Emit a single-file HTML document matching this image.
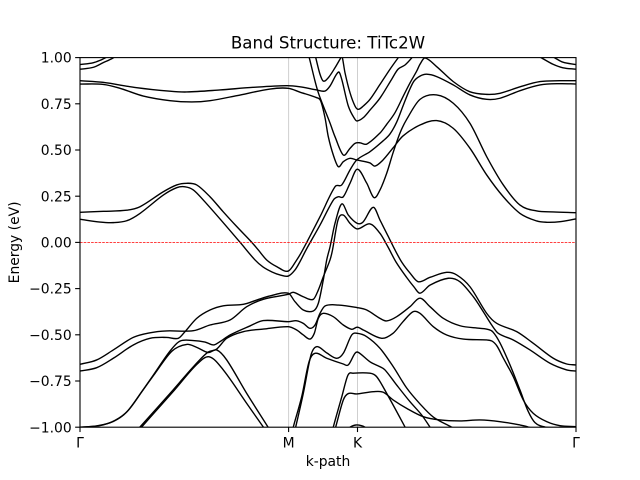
<!DOCTYPE html>
<html lang="en">
<head>
<meta charset="utf-8">
<title>Band Structure: TiTc2W</title>
<style>
html,body{margin:0;padding:0;background:#fff}
svg{display:block}
text{font-family:"DejaVu Sans","Liberation Sans",sans-serif;fill:#000}
</style>
</head>
<body>
<svg id="chart" xmlns="http://www.w3.org/2000/svg" width="640" height="480" viewBox="0 0 640 480">
  <defs><clipPath id="plot-clip"><rect x="80" y="57.6" width="496" height="369.6"></rect></clipPath></defs>
  <rect x="0" y="0" width="640" height="480" fill="#fff"></rect>
  <g id="guides" clip-path="url(#plot-clip)"></g>
  <g id="bands" clip-path="url(#plot-clip)" fill="none" stroke="#000" stroke-width="1.39"></g>
  <g id="axes"></g>
  <text x="328" y="48.5" font-size="16.67" text-anchor="middle">Band Structure: TiTc2W</text>
  <text x="328" y="466" font-size="13.89" text-anchor="middle">k-path</text>
  <text transform="translate(19 242.4) rotate(-90)" font-size="13.89" text-anchor="middle">Energy (eV)</text>
</svg>
<script>
const kMax = 496;
const energyMin = -1;
const energyMax = 1;
const fermiEnergy = 0;
const kTickValues = [0, 208.6, 277.5, 496];
const kTickLabels = ['Γ', 'M', 'K', 'Γ'];
const guideKValues = [208.6, 277.5];
const energyTicks = [-1, -0.75, -0.5, -0.25, 0, 0.25, 0.5, 0.75, 1];
const energyTickLabels = ['−1.00', '−0.75', '−0.50', '−0.25', '0.00', '0.25', '0.50', '0.75', '1.00'];

const band01K = [0, 13, 20, 25, 32];
const band01E = [0.962, 0.972, 0.985, 0.998, 1.019];
const band02K = [0, 13, 23, 33, 40];
const band02E = [0.937, 0.947, 0.972, 0.998, 1.025];
const band03K = [453, 461.7, 473, 483, 496];
const band03E = [1.025, 0.998, 0.964, 0.945, 0.937];
const band04K = [467, 475, 483, 496];
const band04E = [1.025, 0.998, 0.975, 0.962];
const band05K = [0, 23, 56.7, 90, 106.7, 140, 173, 206.7, 220, 236.7, 245, 250, 258.5, 261.7, 268.3, 275, 277.3, 283.3, 290, 300, 311.7, 318, 325, 331.7, 336];
const band05E = [0.875, 0.866, 0.837, 0.818, 0.814, 0.825, 0.839, 0.848, 0.842, 0.825, 0.819, 0.846, 0.922, 0.883, 0.738, 0.666, 0.657, 0.675, 0.716, 0.781, 0.883, 0.937, 0.960, 0.998, 1.030];
const band06K = [0, 23.3, 40, 63.3, 90, 111.7, 130, 156.7, 190, 208.3, 220, 236.7, 240.7, 245, 248.3, 253.3, 258.3, 263.3, 270, 276.7, 290, 295, 303, 313, 323, 340, 356.7, 373.3, 390, 406.7, 423.3, 440, 456.7, 466.7, 480, 496];
const band06E = [0.857, 0.855, 0.834, 0.792, 0.767, 0.760, 0.767, 0.794, 0.830, 0.834, 0.813, 0.783, 0.765, 0.675, 0.572, 0.473, 0.410, 0.437, 0.455, 0.446, 0.430, 0.413, 0.446, 0.511, 0.576, 0.635, 0.659, 0.617, 0.509, 0.365, 0.247, 0.157, 0.116, 0.109, 0.112, 0.127];
const band07K = [226, 229.3, 235, 238.3, 243.3, 250, 255, 263.3, 270, 275, 280, 286.7, 300, 306.7, 315, 323.3, 330, 336.7, 340, 345, 356.7, 373.3, 390, 406.7, 420, 440, 460, 480, 496];
const band07E = [1.057, 0.998, 0.873, 0.810, 0.738, 0.646, 0.572, 0.473, 0.509, 0.536, 0.539, 0.532, 0.592, 0.639, 0.702, 0.792, 0.863, 0.927, 0.964, 0.998, 0.951, 0.870, 0.815, 0.801, 0.807, 0.842, 0.870, 0.875, 0.875];
const band08K = [234, 236, 240, 243.3, 248.3, 255, 260.7, 262, 265, 270, 275, 278.3, 283.3, 290, 300, 310, 318, 323];
const band08E = [1.041, 0.994, 0.910, 0.873, 0.891, 0.945, 0.998, 1.009, 0.918, 0.810, 0.738, 0.720, 0.738, 0.774, 0.855, 0.937, 0.998, 1.036];
const band09K = [0, 23.3, 46.7, 60, 83.3, 96.7, 106.7, 116.7, 130, 143, 156.7, 171.7, 178.3, 186.7, 196.7, 208.3, 216.7, 222.7, 240, 255, 261.7, 270, 276.7, 290, 303, 310, 316.7, 323, 329, 334, 340, 346.7, 356.7, 373.3, 390, 406.7, 420, 440, 460, 480, 496];
const band09E = [0.163, 0.168, 0.174, 0.193, 0.274, 0.311, 0.320, 0.311, 0.247, 0.167, 0.086, 0.001, -0.041, -0.095, -0.131, -0.155, -0.095, -0.041, 0.139, 0.301, 0.311, 0.392, 0.446, 0.491, 0.549, 0.587, 0.651, 0.738, 0.819, 0.873, 0.900, 0.910, 0.897, 0.852, 0.798, 0.774, 0.780, 0.821, 0.852, 0.859, 0.857];
const band10K = [0, 20, 33.3, 46.7, 60, 83.3, 96.7, 105, 113.3, 123.3, 140, 160, 175, 183, 192, 200, 208.3, 215, 220, 226, 240, 253.3, 258.3, 263.3, 270, 277.3, 286.7, 294, 300, 306.7, 313, 320, 326.7, 340, 356.7, 373.3, 390, 406.7, 423.3, 440, 456.7, 473.3, 496];
const band10E = [0.125, 0.110, 0.107, 0.117, 0.157, 0.256, 0.296, 0.301, 0.284, 0.229, 0.127, 0.001, -0.095, -0.133, -0.160, -0.176, -0.182, -0.149, -0.104, -0.041, 0.094, 0.229, 0.247, 0.247, 0.320, 0.396, 0.321, 0.242, 0.284, 0.374, 0.484, 0.592, 0.666, 0.774, 0.798, 0.753, 0.644, 0.464, 0.311, 0.202, 0.170, 0.165, 0.161];
const band11K = [0, 16.7, 33.3, 46.7, 61.7, 73.3, 90, 100, 113.3, 125, 133.5, 140, 150, 170, 183.3, 208.3, 216.7, 223.3, 230, 235, 240, 245, 258.3, 277.3, 286.7, 300, 306.7, 316.7, 330, 340, 350, 363.3, 380, 400, 408, 413, 420, 430, 440, 448, 455, 465, 480, 496];
const band11E = [-1.000, -0.993, -0.969, -0.918, -0.808, -0.718, -0.588, -0.534, -0.531, -0.539, -0.555, -0.537, -0.501, -0.452, -0.423, -0.429, -0.424, -0.438, -0.465, -0.447, -0.384, -0.344, -0.339, -0.353, -0.366, -0.411, -0.425, -0.402, -0.348, -0.302, -0.348, -0.411, -0.451, -0.465, -0.471, -0.485, -0.544, -0.663, -0.799, -0.912, -0.975, -0.999, -1.002, -1.002];
const band12K = [0, 20, 35, 48, 63, 75, 92, 106.7, 116.7, 128.3, 136.7, 146.7, 166.7, 186.7, 191];
const band12E = [-1.000, -0.991, -0.963, -0.910, -0.799, -0.709, -0.588, -0.552, -0.568, -0.596, -0.582, -0.636, -0.817, -0.988, -1.026];
const band13K = [56, 60, 93, 110, 120, 128.3, 136.7, 146.7, 163.3, 183.3, 208.3, 216.7, 223.3, 230, 234.3, 238.3, 243.3, 253.3, 263.3, 271.7, 277.3, 283.3, 301.7, 313, 323, 333, 340, 353.3, 366.7, 383.3, 406.7, 412, 417, 423.3, 433.3, 443.3, 453.3, 466.7, 480, 496];
const band13E = [-1.026, -0.999, -0.799, -0.693, -0.634, -0.593, -0.577, -0.519, -0.483, -0.469, -0.456, -0.474, -0.501, -0.523, -0.492, -0.411, -0.384, -0.402, -0.447, -0.470, -0.459, -0.474, -0.519, -0.492, -0.429, -0.375, -0.384, -0.456, -0.501, -0.523, -0.528, -0.534, -0.561, -0.626, -0.727, -0.853, -0.925, -0.970, -0.992, -0.997];
const band14K = [58, 61.7, 94.5, 116.7, 129.3, 143.3, 166.7, 183.3, 187];
const band14E = [-1.026, -0.999, -0.799, -0.661, -0.619, -0.690, -0.871, -0.999, -1.026];
const band15K = [0, 16.7, 33.3, 53.3, 70, 86.7, 113.3, 130, 150, 166.7, 183.3, 208.3, 213.3, 223.3, 233.3, 238.3, 243.3, 250, 252.5, 258, 263.3, 270, 277.3, 290, 300, 308, 316, 326.7, 334, 340, 350, 368.3, 380, 393.3, 403.3, 411.7, 418.3, 433.3, 450, 470, 486.7, 496];
const band15E = [-0.660, -0.636, -0.582, -0.514, -0.489, -0.479, -0.478, -0.447, -0.420, -0.348, -0.308, -0.281, -0.270, -0.294, -0.308, -0.258, -0.186, -0.095, -0.041, 0.121, 0.148, 0.103, 0.073, 0.100, 0.049, -0.025, -0.106, -0.190, -0.241, -0.275, -0.231, -0.194, -0.213, -0.294, -0.375, -0.447, -0.492, -0.528, -0.582, -0.654, -0.690, -0.696];
const band16K = [0, 16.7, 33.3, 53.3, 70, 86.7, 98.3, 105, 116.7, 130, 143.3, 163.3, 176.7, 190, 208.3, 215, 223.3, 233.3, 238.3, 243.3, 246.7, 250, 255, 261.7, 268.3, 277.3, 283.3, 293.3, 300, 308, 315, 322, 330, 338.3, 350, 366.7, 376.7, 390, 406.7, 416.7, 436.7, 453.3, 473.3, 486.7, 496];
const band16E = [-0.696, -0.678, -0.627, -0.555, -0.519, -0.514, -0.519, -0.483, -0.411, -0.366, -0.343, -0.335, -0.312, -0.290, -0.275, -0.321, -0.366, -0.371, -0.330, -0.203, -0.095, -0.025, 0.103, 0.208, 0.148, 0.103, 0.112, 0.190, 0.121, 0.035, -0.041, -0.109, -0.166, -0.213, -0.189, -0.162, -0.176, -0.240, -0.384, -0.438, -0.483, -0.546, -0.627, -0.658, -0.663];
const band17K = [214.5, 215.7, 223.3, 231, 236.7, 246.7, 256.7, 263.3, 271.7, 277.3, 286.7, 300, 313.3, 326.7, 340, 353.3, 371.7, 376];
const band17E = [-1.026, -0.999, -0.817, -0.609, -0.564, -0.598, -0.627, -0.600, -0.501, -0.492, -0.510, -0.573, -0.673, -0.788, -0.874, -0.945, -1.000, -1.015];
const band18K = [212.5, 213.3, 221.7, 229, 235, 246.7, 263.3, 268.3, 275, 278.3, 290, 300, 305, 316.7, 330, 341.7, 350, 353];
const band18E = [-1.026, -0.999, -0.835, -0.647, -0.600, -0.627, -0.658, -0.663, -0.600, -0.595, -0.646, -0.673, -0.690, -0.772, -0.862, -0.934, -1.000, -1.026];
const band19K = [251, 253.3, 261.7, 268, 273.3, 290, 296.7, 306.7, 325, 327];
const band19E = [-1.053, -0.999, -0.837, -0.718, -0.708, -0.708, -0.727, -0.817, -0.999, -1.021];
const band20K = [254, 255.7, 263.3, 268.3, 276.7, 293.3, 303.3, 313.3, 326.7, 343.3, 360, 380, 400, 420, 440, 450, 453];
const band20E = [-1.031, -0.999, -0.853, -0.818, -0.820, -0.808, -0.811, -0.853, -0.898, -0.943, -0.961, -0.966, -0.961, -0.970, -0.988, -1.002, -1.015];
const band21K = [266, 270, 276.7, 285, 289];
const band21E = [-1.026, -1.000, -0.988, -1.000, -1.026];

const bandKs = [band01K, band02K, band03K, band04K, band05K, band06K, band07K, band08K, band09K, band10K, band11K, band12K, band13K, band14K, band15K, band16K, band17K, band18K, band19K, band20K, band21K];
const bandEs = [band01E, band02E, band03E, band04E, band05E, band06E, band07E, band08E, band09E, band10E, band11E, band12E, band13E, band14E, band15E, band16E, band17E, band18E, band19E, band20E, band21E];

const NS = 'http://www.w3.org/2000/svg';
const plotLeft = 80, plotRight = 576, plotTop = 57.6, plotBottom = 427.2;
function xScale(k) { return plotLeft + (k / kMax) * (plotRight - plotLeft); }
function yScale(e) { return plotTop + ((energyMax - e) / (energyMax - energyMin)) * (plotBottom - plotTop); }

function make(tag, attrs) {
  const el = document.createElementNS(NS, tag);
  for (const key in attrs) el.setAttribute(key, attrs[key]);
  return el;
}

function smoothPath(ks, es) {
  const xs = ks.map(xScale), ys = es.map(yScale), n = xs.length;
  const slope = xs.map((_, i) => {
    const a = Math.max(i - 1, 0), b = Math.min(i + 1, n - 1);
    return (ys[b] - ys[a]) / (xs[b] - xs[a]);
  });
  let d = 'M' + xs[0].toFixed(2) + ' ' + ys[0].toFixed(2);
  for (let i = 0; i < n - 1; i++) {
    const h = (xs[i + 1] - xs[i]) / 3;
    d += 'C' + (xs[i] + h).toFixed(2) + ' ' + (ys[i] + slope[i] * h).toFixed(2) + ' ' +
      (xs[i + 1] - h).toFixed(2) + ' ' + (ys[i + 1] - slope[i + 1] * h).toFixed(2) + ' ' +
      xs[i + 1].toFixed(2) + ' ' + ys[i + 1].toFixed(2);
  }
  return d;
}

const guides = document.getElementById('guides');
guideKValues.forEach(function (k) {
  const line = make('line', { x1: xScale(k), x2: xScale(k), y1: plotTop, y2: plotBottom, stroke: '#cfcfcf', 'stroke-width': 1 });
  
  
  guides.appendChild(line);
});

const bandsGroup = document.getElementById('bands');
bandKs.forEach(function (ks, i) {
  const path = make('path', { d: smoothPath(ks, bandEs[i]) });
  
  
  bandsGroup.appendChild(path);
});

const fermi = make('line', { x1: plotLeft, x2: plotRight, y1: yScale(fermiEnergy), y2: yScale(fermiEnergy), stroke: '#f00', 'stroke-width': 0.7, 'stroke-dasharray': '2.6 1.1' });


guides.parentNode.insertBefore(fermi, document.getElementById('axes'));

const axes = document.getElementById('axes');
const frame = make('rect', { x: plotLeft, y: plotTop, width: plotRight - plotLeft, height: plotBottom - plotTop, fill: 'none', stroke: '#000', 'stroke-width': 1.11 });


axes.appendChild(frame);

kTickValues.forEach(function (k, i) {
  const x = xScale(k);
  const tick = make('line', { x1: x, x2: x, y1: plotBottom, y2: plotBottom + 4.86, stroke: '#000', 'stroke-width': 1.11 });
  
  
  axes.appendChild(tick);
  const label = make('text', { x: x, y: plotBottom + 20.5, 'font-size': 13.89, 'text-anchor': 'middle' });
  
  
  label.textContent = kTickLabels[i];
  axes.appendChild(label);
});

energyTicks.forEach(function (e, i) {
  const y = yScale(e);
  const tick = make('line', { x1: plotLeft - 4.86, x2: plotLeft, y1: y, y2: y, stroke: '#000', 'stroke-width': 1.11 });
  
  
  axes.appendChild(tick);
  const label = make('text', { x: plotLeft - 8.3, y: y + 5.1, 'font-size': 13.89, 'text-anchor': 'end' });
  
  
  label.textContent = energyTickLabels[i];
  axes.appendChild(label);
});
</script>
</body>
</html>
